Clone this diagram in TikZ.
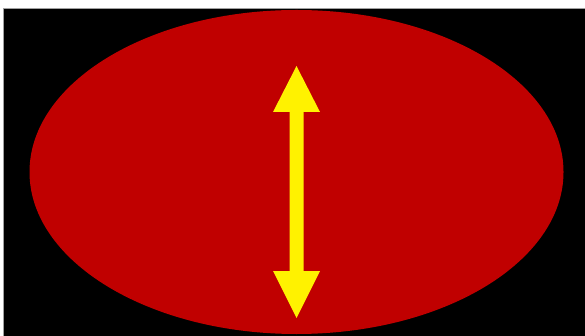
\documentclass[tikz,border=0pt]{standalone}
\begin{document}
\begin{tikzpicture}[x=1pt,y=-1pt]
\definecolor{darkred}{HTML}{C00000}
\definecolor{frame}{HTML}{A0A0A0}
\useasboundingbox (0,0) rectangle (585,336);
\fill[white] (0,0) rectangle (585,336);
\fill[black] (3,8.5) rectangle (585,336);
\draw[frame,line width=0.8pt] (3,336) -- (3,8.5) -- (585,8.5);
\fill[darkred] (296.5,172) ellipse [x radius=267, y radius=162];
\fill[yellow] (296.5,66) -- (320,112) -- (303.5,112) -- (303.5,271) -- (320,271)
  -- (296.5,318) -- (273,271) -- (289.5,271) -- (289.5,112) -- (273,112) -- cycle;
\end{tikzpicture}
\end{document}
